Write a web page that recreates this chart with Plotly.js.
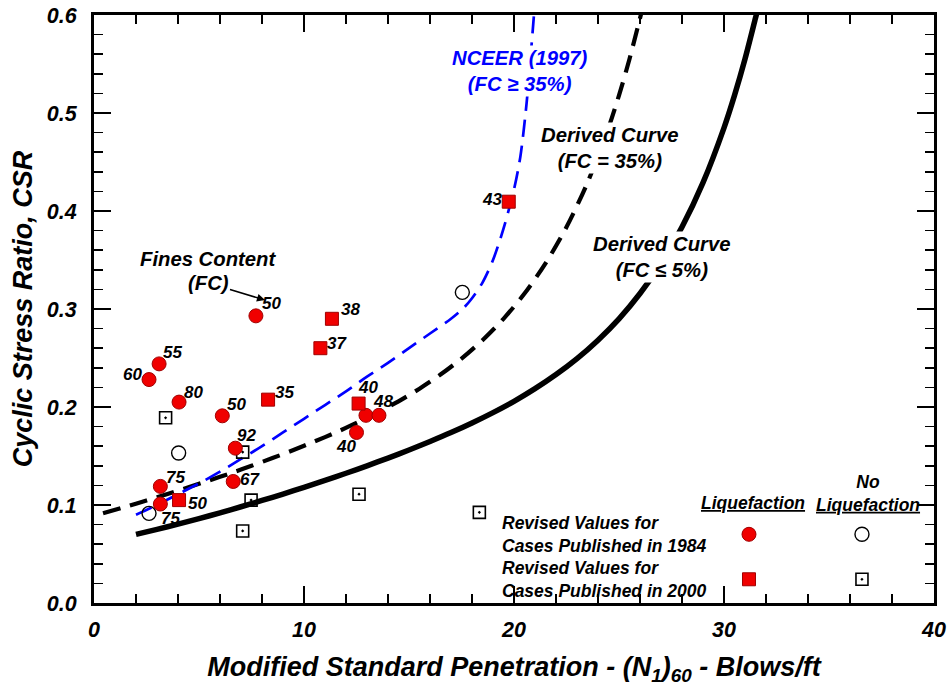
<!DOCTYPE html>
<html>
<head>
<meta charset="utf-8">
<script src="https://cdn.plot.ly/plotly-3.0.1.min.js"></script>
<style>html,body{margin:0;padding:0;background:#fff;}#chart{width:950px;height:688px;}</style>
</head>
<body>
<div id="chart"></div>
<script>
// ---- Curves ----
var solidX = [2, 3, 4, 5, 6, 7, 8, 9, 10, 11, 12, 13, 14, 15, 16, 17, 18, 19, 20, 21, 22, 23, 24, 25, 26, 27, 28, 29, 30, 30.5, 31, 31.5, 31.55];
var solidY = [0.0700, 0.0751, 0.0805, 0.0861, 0.0920, 0.0982, 0.1046, 0.1112, 0.1181, 0.1251, 0.1324, 0.1400, 0.1479, 0.1561, 0.1648, 0.1739, 0.1837, 0.1943, 0.2058, 0.2187, 0.2331, 0.2494, 0.2682, 0.2900, 0.3158, 0.3465, 0.3836, 0.4289, 0.4849, 0.5180, 0.5551, 0.5969, 0.6010];

var dashX = [0.43, 1.5, 2.5, 3.5, 4.5, 5.5, 6.5, 7.5, 8.5, 9.5, 10.5, 11.5, 12.5, 13.5, 14.5, 15.5, 16.5, 17.5, 18.5, 19.5, 20.5, 21.5, 22.5, 23.5, 24.5, 25, 25.5, 26.05];
var dashY = [0.0916, 0.0982, 0.1046, 0.1112, 0.1181, 0.1251, 0.1324, 0.1400, 0.1479, 0.1561, 0.1648, 0.1739, 0.1837, 0.1943, 0.2058, 0.2187, 0.2331, 0.2494, 0.2682, 0.2900, 0.3158, 0.3465, 0.3836, 0.4289, 0.4849, 0.5180, 0.5551, 0.6010];

var nceerX = [2.0, 3.0, 4.0, 5.0, 6.0, 7.0, 8.0, 9.0, 10.0, 11.0, 12.0, 13.0, 14.0, 15.0, 16.0, 17.0, 17.6, 18.0, 18.5, 19.0, 19.5, 20.0, 20.3, 20.6, 20.8, 20.95];
var nceerY = [0.090, 0.100, 0.111, 0.122, 0.134, 0.147, 0.160, 0.174, 0.188, 0.202, 0.216, 0.231, 0.245, 0.260, 0.275, 0.290, 0.301, 0.311, 0.327, 0.350, 0.382, 0.422, 0.455, 0.510, 0.560, 0.600];

// ---- Case data: Liquefaction, 1984 (circles) ----
var liq84X  = [7.71, 3.10, 2.62, 4.05, 6.11, 6.73, 6.63, 3.16, 3.16, 12.50, 12.95, 13.57];
var liq84Y  = [0.293, 0.244, 0.228, 0.205, 0.191, 0.158, 0.124, 0.119, 0.101, 0.174, 0.1915, 0.1915];
var liq84FC = ["50", "55", "60", "80", "50", "92", "67", "75", "75", "40", "", "48"];

// ---- Liquefaction, 2000 (squares) ----
var liq00X  = [11.33, 10.78, 8.29, 4.05, 12.60, 19.75];
var liq00Y  = [0.290, 0.260, 0.2075, 0.105, 0.2035, 0.4095];
var liq00FC = ["38", "37", "35", "50", "40", "43"];

// ---- No liquefaction ----
var noLiq84X = [4.03, 2.62, 17.54];
var noLiq84Y = [0.153, 0.0915, 0.317];
var noLiq00X = [3.41, 7.08, 7.48, 7.08, 12.62, 18.35];
var noLiq00Y = [0.189, 0.154, 0.105, 0.0735, 0.111, 0.0925];

// ---- Tick labels ----
var xTicks = [0, 10, 20, 30, 40];
var xTickText = ["0", "10", "20", "30", "40"];
var yTicks = [0, 0.1, 0.2, 0.3, 0.4, 0.5, 0.6];
var yTickText = ["0.0", "0.1", "0.2", "0.3", "0.4", "0.5", "0.6"];

// ---- Legend marker spots (in chart coordinates) ----
var legendColX = [31.19, 36.57];
var legendRowY = [0.0701, 0.0242];

// label offsets (pixels) for FC labels
var off84 = [[16,12],[13,11],[-17,5],[14,10],[14,11],[11,13],[17,2],[15,9],[10,-14],[-11,-14],[0,0],[4,14]];
var off00 = [[19,9],[17,5],[16,7],[18,-3],[9,16],[-17,2]];

var FONT = "Liberation Sans, Arial, Helvetica, sans-serif";
var RED = "#f00000";
var DRED = "#a00000";

var traces = [
  {x: solidX, y: solidY, mode: "lines", line: {color: "black", width: 5.5, shape: "spline", smoothing: 0.8}, hoverinfo: "skip"},
  {x: dashX, y: dashY, mode: "lines", line: {color: "black", width: 4.2, dash: "18px,10px", shape: "spline", smoothing: 0.8}, hoverinfo: "skip"},
  {x: nceerX, y: nceerY, mode: "lines", line: {color: "#0000ff", width: 2.7, dash: "17px,9px", shape: "spline", smoothing: 0.8}, hoverinfo: "skip"},
  {x: noLiq84X, y: noLiq84Y, mode: "markers", marker: {symbol: "circle-open", size: 14, color: "black", line: {width: 1.4}}},
  {x: noLiq00X, y: noLiq00Y, mode: "markers", marker: {symbol: "square-open-dot", size: 12, color: "black", line: {width: 1.6}}},
  {x: liq84X, y: liq84Y, mode: "markers", marker: {symbol: "circle", size: 14, color: RED, line: {color: DRED, width: 1}}},
  {x: liq00X, y: liq00Y, mode: "markers", marker: {symbol: "square", size: 13, color: RED, line: {color: DRED, width: 1}}},
  // legend symbols
  {x: [legendColX[0]], y: [legendRowY[0]], mode: "markers", marker: {symbol: "circle", size: 14, color: RED, line: {color: DRED, width: 1}}},
  {x: [legendColX[1]], y: [legendRowY[0]], mode: "markers", marker: {symbol: "circle-open", size: 14, color: "black", line: {width: 1.4}}},
  {x: [legendColX[0]], y: [legendRowY[1]], mode: "markers", marker: {symbol: "square", size: 13, color: RED, line: {color: DRED, width: 1}}},
  {x: [legendColX[1]], y: [legendRowY[1]], mode: "markers", marker: {symbol: "square-open-dot", size: 12, color: "black", line: {width: 1.6}}}
];

var annFont = {family: FONT, size: 17, color: "black", weight: "bold", style: "italic"};
var annotations = [];
function addLabels(xs, ys, labels, offs) {
  for (var i = 0; i < xs.length; i++) {
    if (!labels[i]) continue;
    annotations.push({x: xs[i], y: ys[i], xref: "x", yref: "y", text: labels[i], showarrow: false,
      xshift: offs[i][0], yshift: offs[i][1], font: annFont});
  }
}
addLabels(liq84X, liq84Y, liq84FC, off84);
addLabels(liq00X, liq00Y, liq00FC, off00);

function px2x(p) { return (p - 94) / 21; }
function px2y(p) { return (603 - p) / 980; }

var bigFont = {family: FONT, size: 20.3, color: "black", weight: "bold", style: "italic"};
var blueFont = {family: FONT, size: 20.3, color: "#0000ff", weight: "bold", style: "italic"};
var legFont = {family: FONT, size: 17.5, color: "black", weight: "bold", style: "italic"};

annotations.push(
  {x: px2x(208), y: px2y(259), xref: "x", yref: "y", text: "Fines Content", showarrow: false, font: bigFont},
  {x: px2x(265), y: px2y(300), xref: "x", yref: "y", text: "(FC)", showarrow: true, arrowhead: 2, arrowsize: 1, arrowwidth: 1.6, arrowcolor: "black", ax: -57, ay: -17, standoff: 0, font: bigFont},
  {x: px2x(520), y: px2y(71), xref: "x", yref: "y", text: "NCEER (1997)<br>(FC \u2265 35%)", showarrow: false, font: blueFont, align: "center", bgcolor: "white"},
  {x: px2x(610), y: px2y(148), xref: "x", yref: "y", text: "Derived Curve<br>(FC = 35%)", showarrow: false, font: bigFont, align: "center", bgcolor: "white"},
  {x: px2x(662), y: px2y(257), xref: "x", yref: "y", text: "Derived Curve<br>(FC \u2264 5%)", showarrow: false, font: bigFont, align: "center", bgcolor: "white"},
  {x: px2x(753), y: px2y(503), xref: "x", yref: "y", text: "<u>Liquefaction</u>", showarrow: false, font: legFont},
  {x: px2x(868), y: px2y(493), xref: "x", yref: "y", text: "No<br><u>Liquefaction</u>", showarrow: false, font: legFont, align: "center"},
  {x: px2x(500), y: px2y(534), xref: "x", yref: "y", xanchor: "left", text: "Revised Values for<br>Cases Published in 1984", showarrow: false, font: legFont, align: "left"},
  {x: px2x(500), y: px2y(579), xref: "x", yref: "y", xanchor: "left", text: "Revised Values for<br>Cases Published in 2000", showarrow: false, font: legFont, align: "left"}
);

var tickFont = {family: FONT, size: 21.5, color: "black", weight: "bold", style: "italic"};
var titleFont = {family: FONT, size: 27, color: "black", weight: "bold", style: "italic"};

var layout = {
  width: 950, height: 688,
  margin: {l: 94, r: 16, t: 15, b: 85},
  paper_bgcolor: "white", plot_bgcolor: "white",
  showlegend: false,
  xaxis: {
    range: [0, 40], tickvals: xTicks, ticktext: xTickText,
    ticks: "inside", ticklen: 17, tickwidth: 1.5, tickcolor: "black",
    minor: {dtick: 2, ticks: "inside", ticklen: 9, tickwidth: 1.5, tickcolor: "black"},
    showline: true, linewidth: 3, linecolor: "black", mirror: "allticks",
    showgrid: false, zeroline: false, tickfont: tickFont, ticklabelstandoff: 5,
    title: {text: "Modified Standard Penetration - (N<sub>1</sub>)<sub>60</sub> - Blows/ft", font: titleFont, standoff: 17}
  },
  yaxis: {
    range: [0, 0.6], tickvals: yTicks, ticktext: yTickText,
    ticks: "inside", ticklen: 17, tickwidth: 1.5, tickcolor: "black",
    minor: {dtick: 0.02, ticks: "inside", ticklen: 9, tickwidth: 1.5, tickcolor: "black"},
    showline: true, linewidth: 3, linecolor: "black", mirror: "allticks",
    showgrid: false, zeroline: false, tickfont: tickFont, ticklabelstandoff: 10,
    title: {text: "Cyclic Stress Ratio, CSR", font: titleFont, standoff: 7}
  },
  annotations: annotations
};

Plotly.newPlot("chart", traces, layout, {staticPlot: true, displayModeBar: false});
</script>
</body>
</html>
